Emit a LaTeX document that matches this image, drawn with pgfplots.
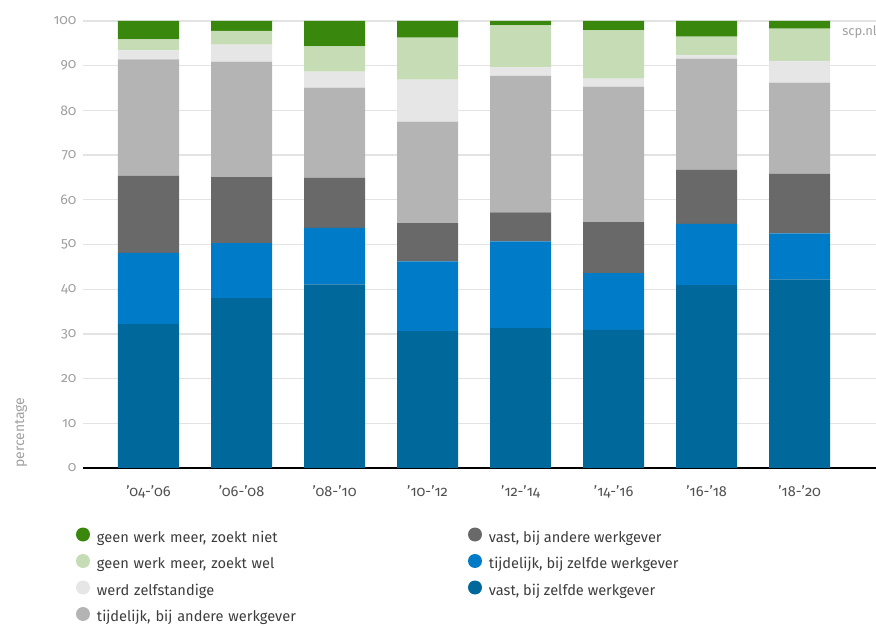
\documentclass[border=0pt]{standalone}
\usepackage{fontspec}
\setmainfont{Fira Sans}[Numbers=OldStyle]
\usepackage{pgfplots}
\pgfplotsset{compat=1.18}
\definecolor{cVZ}{HTML}{01689B}
\definecolor{cTZ}{HTML}{007BC7}
\definecolor{cVA}{HTML}{696969}
\definecolor{cTA}{HTML}{B4B4B4}
\definecolor{cZS}{HTML}{E6E6E6}
\definecolor{cZW}{HTML}{C5DCB5}
\definecolor{cZN}{HTML}{39870C}
\definecolor{gridc}{HTML}{E3E3E3}
\definecolor{ytxt}{HTML}{A0A0A0}
\definecolor{xtxt}{HTML}{505050}
\definecolor{ltxt}{HTML}{3C3C3C}
\begin{document}
\begin{tikzpicture}
\useasboundingbox (-83pt,-158pt) rectangle (793pt,468pt);
\begin{axis}[
  at={(0pt,0pt)}, anchor=south west,
  scale only axis, width=793pt, height=447pt,
  ybar stacked, bar width=0.656,
  xmin=-0.704, xmax=7.82, ymin=0, ymax=100,
  xtick={0,...,7},
  xticklabels={’04-’06,’06-’08,’08-’10,’10-’12,’12-’14,’14-’16,’16-’18,’18-’20},
  ytick={0,10,...,100},
  /pgf/number format/assume math mode=true,
  major tick length=0pt,
  axis line style={draw=none},
  ymajorgrids, grid style={color=gridc, line width=1.3pt},
  yticklabel style={font=\fontsize{14}{16}\selectfont, text=ytxt, xshift=-3pt},
  xticklabel style={font=\fontsize{14.5}{16}\selectfont, text=xtxt, yshift=-14pt},
  every axis plot/.append style={draw=none},
  legend columns=2,
  legend cell align=left,
  legend style={at={(rel axis cs:0,0)}, anchor=north west, xshift=-7pt, yshift=-59.5pt,
    draw=none, fill=none, inner sep=0pt, outer sep=0pt,
    font=\fontsize{14.6}{16}\selectfont, text=ltxt,
    column sep=0pt, row sep=9pt,
    nodes={inner xsep=7pt, inner ysep=0pt, text height=10pt, text depth=3pt},
    /tikz/column 2/.style={nodes={text width=364pt}}},
  clip=false,
]
\addplot+[fill=cVZ, forget plot] coordinates {(0,32.2) (1,38.0) (2,41.1) (3,30.6) (4,31.3) (5,30.9) (6,40.9) (7,42.2)};
\addplot+[fill=cTZ, forget plot] coordinates {(0,15.9) (1,12.3) (2,12.6) (3,15.6) (4,19.4) (5,12.7) (6,13.7) (7,10.3)};
\addplot+[fill=cVA, forget plot] coordinates {(0,17.3) (1,14.8) (2,11.2) (3,8.6) (4,6.5) (5,11.4) (6,12.1) (7,13.3)};
\addplot+[fill=cTA, forget plot] coordinates {(0,26.0) (1,25.8) (2,20.2) (3,22.7) (4,30.5) (5,30.3) (6,24.9) (7,20.4)};
\addplot+[fill=cZS, forget plot] coordinates {(0,2.0) (1,3.8) (2,3.6) (3,9.4) (4,1.9) (5,1.8) (6,0.7) (7,4.9)};
\addplot+[fill=cZW, forget plot] coordinates {(0,2.5) (1,3.1) (2,5.6) (3,9.4) (4,9.4) (5,10.8) (6,4.2) (7,7.2)};
\addplot+[fill=cZN, forget plot] coordinates {(0,4.1) (1,2.2) (2,5.7) (3,3.7) (4,1.0) (5,2.1) (6,3.5) (7,1.7)};
\draw[black, line width=2pt] (rel axis cs:0,0) -- (rel axis cs:1,0);
\pgfplotsset{legend image code/.code={\fill[#1] (7pt,4pt) circle (7pt);}}
\addlegendimage{fill=cZN}\addlegendentry{geen werk meer, zoekt niet}
\addlegendimage{fill=cVA}\addlegendentry{vast, bij andere werkgever}
\addlegendimage{fill=cZW}\addlegendentry{geen werk meer, zoekt wel}
\addlegendimage{fill=cTZ}\addlegendentry{tijdelijk, bij zelfde werkgever}
\addlegendimage{fill=cZS}\addlegendentry{werd zelfstandige}
\addlegendimage{fill=cVZ}\addlegendentry{vast, bij zelfde werkgever}
\addlegendimage{fill=cTA}\addlegendentry{tijdelijk, bij andere werkgever}
\end{axis}
\node[rotate=90, anchor=west, inner sep=0pt, text=ytxt, font=\fontsize{14}{16}\selectfont] at (-62pt,0pt) {percentage};
\node[anchor=east, inner sep=0pt, text=ytxt, font=\fontsize{13}{15}\selectfont] at (794pt,436pt) {scp.nl};
\end{tikzpicture}
\end{document}
